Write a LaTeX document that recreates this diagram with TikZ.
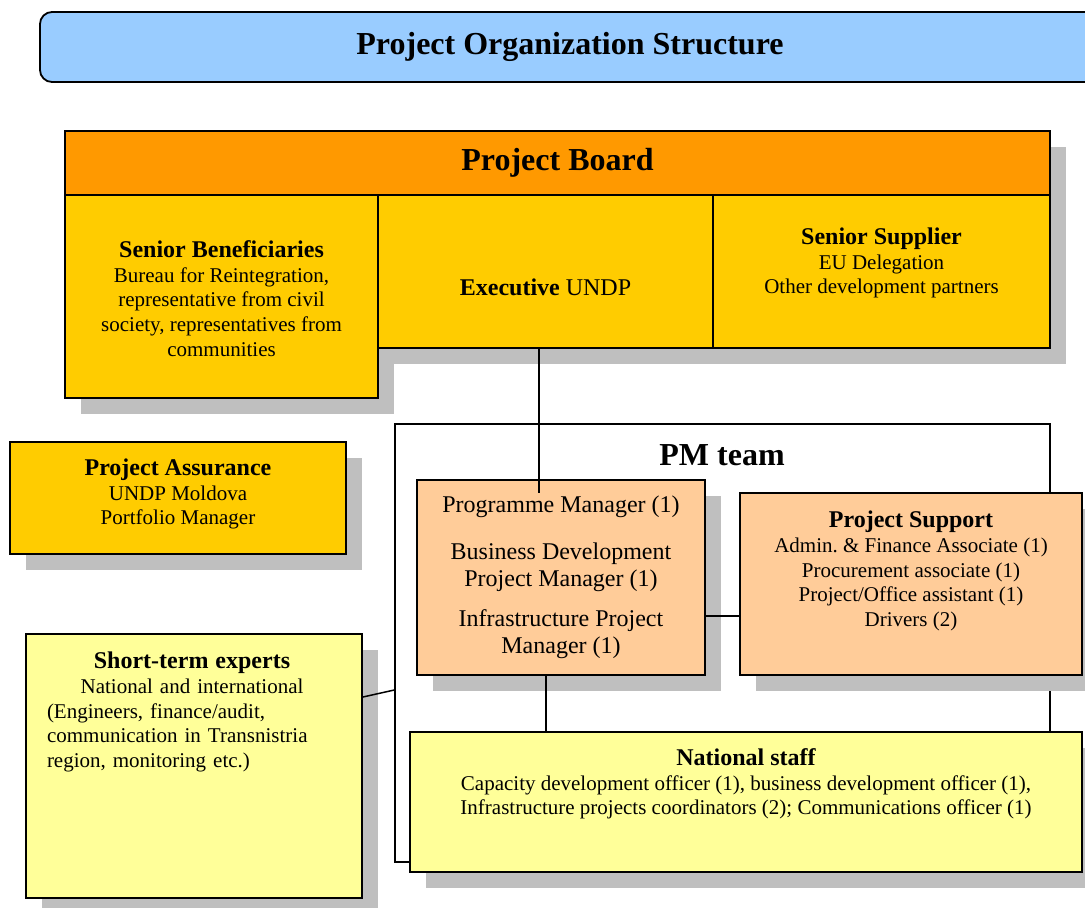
\documentclass[tikz,border=0pt]{standalone}
\usepackage{fontspec}
\setmainfont{Liberation Serif}
\usetikzlibrary{shadows}

\definecolor{titleblue}{HTML}{99CCFF}
\definecolor{boardorange}{HTML}{FF9900}
\definecolor{boardgold}{HTML}{FFCC00}
\definecolor{teampeach}{HTML}{FFCC99}
\definecolor{staffyellow}{HTML}{FFFF99}
\definecolor{shade}{HTML}{BFBFBF}

\newcommand{\boxhead}[1]{{\fontsize{12}{14}\selectfont\bfseries #1}}

\begin{document}
\begin{tikzpicture}[x=0.5pt, y=-0.5pt,
    box/.style={draw, line width=0.9pt, inner sep=0pt,
      drop shadow={shadow xshift=8pt, shadow yshift=-8pt, fill=shade, opacity=1}},
    txt/.style={align=center, inner sep=0pt, font=\fontsize{10.5}{12.3}\selectfont},
    big/.style={font=\fontsize{16}{19}\selectfont\bfseries},
    link/.style={line width=0.75pt}]
    \path[use as bounding box, clip] (0,0) rectangle (1085,907);

    \node[draw, line width=0.9pt, rounded corners=6pt, fill=titleblue,
      minimum width=530pt, minimum height=35pt, big] (title) at (570,47) {Project Organization Structure};

    % project board
    \node[box, fill=boardorange, minimum width=492.5pt, minimum height=32pt, big] (board) at (557.5,163) {Project Board};
    \node[box, fill=boardgold, minimum width=156.5pt, minimum height=101.5pt] (benef) at (221.5,296.5) {};
    \node[box, fill=boardgold, minimum width=167.5pt, minimum height=76.5pt] (exec) at (545.5,271.5) {};
    \node[box, fill=boardgold, minimum width=168.5pt, minimum height=76.5pt] (supplier) at (881.5,271.5) {};
    \node[txt] (beneft) at (221.5,298.5) {\boxhead{Senior Beneficiaries}\\Bureau for Reintegration,\\representative from civil\\society, representatives from\\communities};
    \node[txt, font=\fontsize{12}{14}\selectfont] (exect) at (545.5,287) {\textbf{Executive} UNDP};
    \node[txt] (suppliert) at (881.5,263) {\boxhead{Senior Supplier}\\EU Delegation\\Other development partners};

    \node[box, fill=boardgold, minimum width=168pt, minimum height=56pt] (assur) at (178,498) {};
    \node[txt] (assurt) at (178,494) {\boxhead{Project Assurance}\\UNDP Moldova\\Portfolio Manager};

    % pm team
    \node[draw, line width=0.8pt, minimum width=327.5pt, minimum height=219pt] (pmteam) at (722.5,643) {};
    \node[big] (pmteamt) at (722,455) {PM team};

    \node[box, fill=teampeach, minimum width=144pt, minimum height=97.5pt] (pgm) at (561,577.5) {};
    \node[box, fill=teampeach, minimum width=171pt, minimum height=91pt] (support) at (911,584) {};
    \node[box, fill=staffyellow, minimum width=336pt, minimum height=70pt] (natstaff) at (746,802) {};
    \node[box, fill=staffyellow, minimum width=168pt, minimum height=132pt] (experts) at (194,766) {};

    \node[txt, font=\fontsize{12}{13.5}\selectfont] (pgmt) at (561,577) {Programme Manager (1)\\[10pt]Business Development\\Project Manager (1)\\[6.5pt]Infrastructure Project\\Manager (1)};
    \node[txt] (supportt) at (911,571) {\boxhead{Project Support}\\Admin.\ \& Finance Associate (1)\\Procurement associate (1)\\Project/Office assistant (1)\\Drivers (2)};
    \node[txt] (natstafft) at (746,784) {\boxhead{National staff}\\Capacity development officer (1), business development officer (1),\\Infrastructure projects coordinators (2); Communications officer (1)};
    \node[inner sep=0pt, text width=145pt, font=\fontsize{10.5}{12.3}\selectfont] (expertst) at (192,712)
      {{\centering\boxhead{Short-term experts}\\National and international\par}\raggedright(Engineers, finance/audit,\\communication in Transnistria\\region, monitoring etc.)\par};

    % links
    \coordinate (tap) at (539,493);
    \coordinate (mid) at (720,616);
    \coordinate (natx) at (546,700);
    \draw[link] (exec.south -| tap) -- (tap);
    \draw[link] (pgm.east |- mid) -- (support.west |- mid);
    \draw[link] (pgm.south -| natx) -- (natstaff.north -| natx);
    \draw[link] ([yshift=34.5pt]experts.east) -- ([yshift=-23.5pt]pmteam.west);
\end{tikzpicture}
\end{document}
